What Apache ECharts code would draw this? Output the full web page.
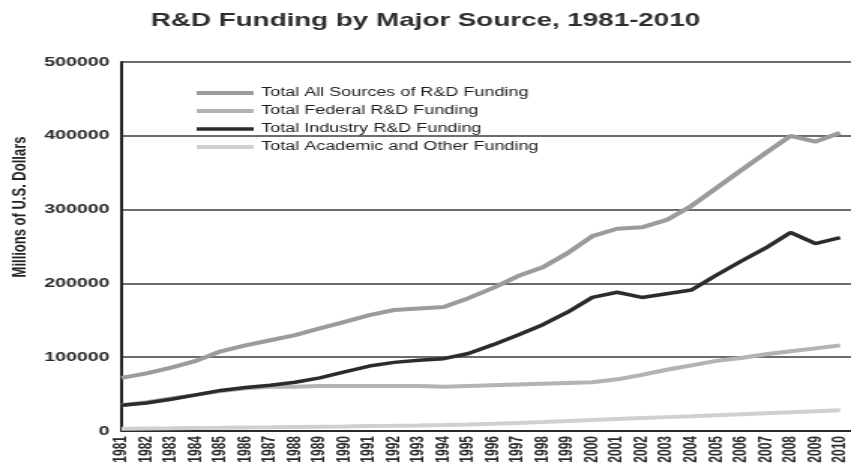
<!DOCTYPE html>
<html>
<head>
<meta charset="utf-8">
<title>R&amp;D Funding by Major Source, 1981-2010</title>
<script src="https://cdn.jsdelivr.net/npm/echarts@6/dist/echarts.min.js"></script>
<style>
  html, body { margin: 0; padding: 0; background: #fff; overflow: hidden; }
  /* the chart is laid out narrow and widened to the page width */
  #chart { width: 567px; height: 469px; transform: scaleX(1.50088); transform-origin: 0 0; }
</style>
</head>
<body>
<div id="chart"></div>
<script>
// Years on the horizontal axis
const years = [1981, 1982, 1983, 1984, 1985, 1986, 1987, 1988, 1989, 1990,
               1991, 1992, 1993, 1994, 1995, 1996, 1997, 1998, 1999, 2000,
               2001, 2002, 2003, 2004, 2005, 2006, 2007, 2008, 2009, 2010];

// Funding in millions of U.S. dollars
const allSources = [72000, 78000, 86000, 95000, 108000, 116000, 123000, 130000, 139000, 148000,
                    157000, 164000, 166000, 168000, 180000, 194000, 210000, 222000, 241000, 264000,
                    274000, 276000, 286000, 305000, 329000, 353000, 377000, 400000, 392000, 404000];
const federal = [35000, 39000, 44000, 49000, 54000, 58000, 60000, 60000, 61000, 61000,
                 61000, 61000, 61000, 60000, 61000, 62000, 63000, 64000, 65000, 66000,
                 70000, 76000, 83000, 89000, 95000, 99000, 104000, 108000, 112000, 116000];
const industry = [35000, 38000, 43000, 49000, 55000, 59000, 62000, 66000, 72000, 80000,
                  88000, 93000, 96000, 98000, 105000, 117000, 130000, 144000, 161000, 181000,
                  188000, 181000, 186000, 191000, 211000, 230000, 248000, 269000, 254000, 262000];
const academic = [3000, 3300, 3600, 4000, 4300, 4700, 5000, 5400, 5800, 6200,
                  6700, 7100, 7600, 8200, 8900, 9800, 10900, 12100, 13500, 15000,
                  16400, 17600, 18800, 20000, 21300, 22600, 24000, 25300, 26700, 28000];

const yTicks = [0, 100000, 200000, 300000, 400000, 500000];

const seriesDefs = [
  { name: 'Total All Sources of R&D Funding', values: allSources, color: '#9b9b9b', width: 4 },
  { name: 'Total Federal R&D Funding',        values: federal,    color: '#b3b3b3', width: 4 },
  { name: 'Total Industry R&D Funding',       values: industry,   color: '#2b2b2b', width: 3.5 },
  { name: 'Total Academic and Other Funding', values: academic,   color: '#d0d0d0', width: 4 }
];

const FONT = '"Liberation Sans", Arial, sans-serif';
const chart = echarts.init(document.getElementById('chart'));

chart.setOption({
  backgroundColor: '#ffffff',
  animation: false,
  title: {
    text: 'R&D Funding by Major Source, 1981-2010',
    left: 'center',
    top: 11,
    padding: 0,
    textStyle: { fontFamily: FONT, fontSize: 18.5, fontWeight: 'bold', color: '#2e2e2e' }
  },
  graphic: [{
    type: 'text',
    x: 13.5,
    y: 207,
    rotation: Math.PI / 2,
    style: {
      text: 'Millions of U.S. Dollars',
      font: 'bold 13px ' + FONT,
      fill: '#222222',
      align: 'center',
      verticalAlign: 'middle'
    }
  }],
  legend: {
    orient: 'vertical',
    left: 129,
    top: 87,
    padding: 0,
    itemWidth: 38,
    itemHeight: 12,
    itemGap: 6,
    itemStyle: { opacity: 0 },
    lineStyle: { width: 'inherit' },
    textStyle: { fontFamily: FONT, fontSize: 12, color: '#1e1e1e' },
    data: seriesDefs.map(s => s.name)
  },
  grid: { left: 81, right: 0, top: 62, bottom: 38, containLabel: false },
  xAxis: {
    type: 'value',
    min: years[0],
    max: years[years.length - 1] + 0.44,
    interval: 1,
    splitLine: { show: false },
    axisTick: { show: false },
    axisLine: { show: true, lineStyle: { color: '#2a2a2a', width: 2 } },
    axisLabel: {
      rotate: 90,
      margin: 5,
      showMaxLabel: false,
      fontFamily: FONT,
      fontSize: 12,
      fontWeight: 'bold',
      color: '#2a2a2a',
      formatter: v => (years.indexOf(v) >= 0 ? String(v) : '')
    }
  },
  yAxis: {
    type: 'value',
    min: yTicks[0],
    max: yTicks[yTicks.length - 1],
    interval: yTicks[1] - yTicks[0],
    axisLine: { show: true, lineStyle: { color: '#222222', width: 2 } },
    axisTick: { show: false },
    splitLine: { show: true, lineStyle: { color: '#3c3c3c', width: 1.5 } },
    axisLabel: {
      margin: 8,
      fontFamily: FONT,
      fontSize: 13,
      fontWeight: 'bold',
      color: '#2a2a2a',
      formatter: v => String(v)
    }
  },
  series: seriesDefs.map(s => ({
    name: s.name,
    type: 'line',
    symbol: 'none',
    smooth: false,
    color: s.color,
    lineStyle: { color: s.color, width: s.width },
    data: years.map((y, i) => [y, s.values[i]])
  }))
});
</script>
</body>
</html>
